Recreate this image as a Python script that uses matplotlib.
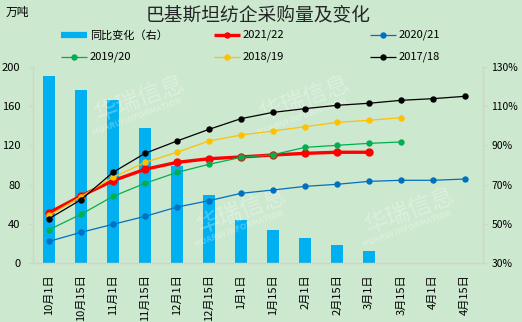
import matplotlib.pyplot as plt
from matplotlib.lines import Line2D

plt.rcParams['font.family'] = ['Noto Sans CJK SC', 'DejaVu Sans']

dates = ['10月1日', '10月15日', '11月1日', '11月15日', '12月1日', '12月15日',
         '1月1日', '1月15日', '2月1日', '2月15日', '3月1日', '3月15日',
         '4月1日', '4月15日']

# 同比变化（%），右轴
yoy = [125.6, 118.3, 113.2, 98.9, 79.5, 64.7, 51.9, 46.8, 42.8, 39.2, 36.1]

# 累计采购量（万吨），左轴
s2122 = [51.3, 68.4, 84.0, 95.6, 102.7, 106.4, 108.2, 110.2, 111.9, 113.0, 113.0]
s2021 = [22.1, 31.3, 39.5, 47.6, 57.1, 63.6, 71.1, 74.5, 78.2, 80.3, 83.3, 84.4, 84.4, 85.7]
s1920 = [34.0, 49.7, 68.0, 81.3, 92.5, 100.7, 107.8, 110.5, 118.0, 120.1, 122.1, 123.5]
s1819 = [48.5, 67.7, 87.4, 102.7, 113.0, 124.5, 130.6, 134.7, 139.1, 143.5, 145.6, 148.3]
s1718 = [45.2, 64.6, 92.5, 111.9, 124.5, 136.4, 147.3, 153.7, 157.5, 160.9, 163.0, 166.0, 167.7, 170.1]

bg = '#CCE8CF'
axis_c = '#D9D2C3'

fig = plt.figure(figsize=(5.22, 3.22), dpi=100, facecolor=bg)
ax = fig.add_axes([33 / 522, 59 / 322, 450 / 522, 196 / 322])
ax2 = ax.twinx()

x = list(range(len(dates)))

# 柱子画在右轴上，折线压在柱子上面
ax2.bar(x[:len(yoy)], yoy, width=0.375, color='#00B0F0', bottom=0)
ax2.set_ylim(30, 130)
ax2.set_yticks(range(30, 131, 20))
ax2.set_yticklabels([f'{v}%' for v in range(30, 131, 20)])

ax.set_zorder(ax2.get_zorder() + 1)
ax.patch.set_visible(False)
ax2.patch.set_facecolor(bg)

series = [
    (s2122, '#FF0000', 2.4, 6.0),
    (s2021, '#0070C0', 0.9, 4.6),
    (s1920, '#00B050', 0.9, 4.6),
    (s1819, '#FFC000', 0.9, 4.6),
    (s1718, '#000000', 0.9, 4.6),
]
for vals, c, lw, ms in series:
    ax.plot(x[:len(vals)], vals, color=c, lw=lw, marker='o', ms=ms,
            markeredgewidth=0)

ax.set_ylim(0, 200)
ax.set_yticks(range(0, 201, 40))
ax.set_xlim(-0.5, 13.56)
ax.set_xticks(x)
ax.set_xticklabels(dates, rotation=90, fontsize=8)

for a in (ax, ax2):
    for s in a.spines.values():
        s.set_visible(False)
ax.spines['left'].set_visible(True)
ax.spines['bottom'].set_visible(True)
ax2.spines['right'].set_visible(True)
for s in (ax.spines['left'], ax.spines['bottom'], ax2.spines['right']):
    s.set_color(axis_c)
    s.set_linewidth(1.0)

ax.tick_params(axis='y', labelsize=8, length=3, color=axis_c, pad=6)
ax.tick_params(axis='x', length=0, pad=8)
ax2.tick_params(axis='y', labelsize=7.5, length=3, color=axis_c, pad=3)

# 水印
for cx, cy in [(140, 100), (305, 100), (242, 212), (410, 212)]:
    fig.text(cx / 522, 1 - cy / 322, '华瑞信息', fontsize=17, color='white',
             alpha=0.3, rotation=20, ha='center', va='center', zorder=0.5)
    fig.text((cx - 3) / 522, 1 - (cy + 17) / 322, 'HUARUI INFORMATION', fontsize=6,
             color='white', alpha=0.3, rotation=20, ha='center', va='center',
             zorder=0.5, fontweight='bold')

fig.text(258 / 522, 1 - 15 / 322, '巴基斯坦纺企采购量及变化', fontsize=13.5,
         color='#262626', ha='center', va='center')
fig.text(6 / 522, 1 - 12 / 322, '万吨', fontsize=8.5, ha='left', va='center')

# 图例，三列手动摆放
legend_items = [
    (61, 35, '同比变化（右）', '#00B0F0', 4.5, None),
    (214, 35, '2021/22', '#FF0000', 2.4, 'o'),
    (370, 35, '2020/21', '#0070C0', 0.9, 'o'),
    (61, 57, '2019/20', '#00B050', 0.9, 'o'),
    (214, 57, '2018/19', '#FFC000', 0.9, 'o'),
    (370, 57, '2017/18', '#000000', 0.9, 'o'),
]
for lx, ly, lab, c, lw, mk in legend_items:
    yy = 1 - ly / 322
    fig.add_artist(Line2D([lx / 522, (lx + 26) / 522], [yy, yy], color=c, lw=lw,
                          solid_capstyle='butt', transform=fig.transFigure))
    if mk:
        fig.add_artist(Line2D([(lx + 13) / 522], [yy], color=c, marker=mk,
                              ms=4.6, markeredgewidth=0, transform=fig.transFigure))
    fig.text((lx + 29) / 522, yy, lab, fontsize=8, ha='left', va='center')

fig.savefig('out.png', dpi=100, facecolor=bg)
